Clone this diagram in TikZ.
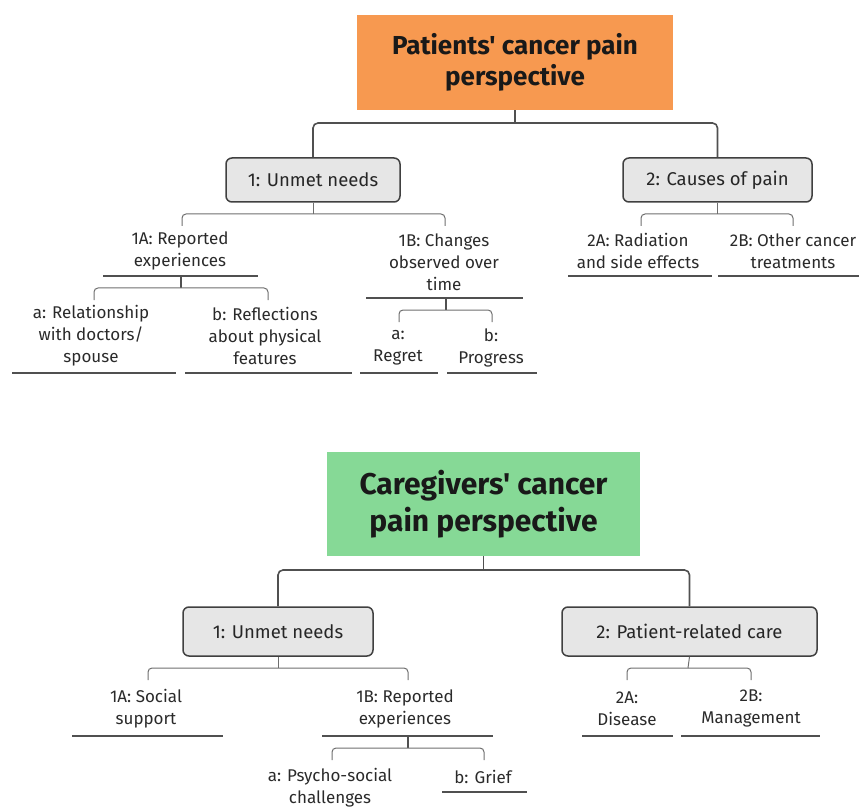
\documentclass[tikz,border=0pt]{standalone}
\usepackage{fontspec}
\setmainfont{Fira Sans}[Ligatures=TeXOff]
\definecolor{orangeT}{RGB}{247,153,80}
\definecolor{greenT}{RGB}{134,217,150}
\definecolor{boxfill}{RGB}{230,230,230}
\definecolor{boxline}{RGB}{64,64,64}
\definecolor{lineC}{RGB}{80,80,80}
\definecolor{subC}{RGB}{110,110,110}
\definecolor{txt}{RGB}{42,42,42}
\begin{document}
\begin{tikzpicture}[x=1pt,y=-1pt,
  rootbox/.style={inner sep=0, align=center, text=black!90, font=\bfseries\fontsize{26}{31}\selectfont},
  cat/.style={draw=boxline, fill=boxfill, rounded corners=6, line width=1.5, text=black!85, inner sep=0, minimum height=44, font=\fontsize{18.5}{22}\selectfont},
  leaf/.style={align=center, inner sep=0, text=txt, font=\fontsize{17}{22}\selectfont},
  conn/.style={draw=lineC, line width=1.6, rounded corners=5},
  sub/.style={draw=subC, line width=1, rounded corners=4},
  uline/.style={draw=lineC, line width=1.2}]
\useasboundingbox (0,0) rectangle (859,810);

% ---------------- Patients ----------------
\node[rootbox, fill=orangeT, minimum width=316, minimum height=95] (P) at (515,62.5) {Patients' cancer pain\\perspective};
\node[cat, minimum width=174] (U1) at (313,180) {1: Unmet needs};
\node[cat, minimum width=189] (C2) at (717.5,180) {2: Causes of pain};
\coordinate (jP) at (515,123);
\draw[conn] (P.south) -- (jP);
\draw[conn] (U1.north) |- (jP) -| (C2.north);

% under 1
\node[leaf] (A1) at (180,251) {1A: Reported\\experiences};
\node[leaf] (B1) at (444,262) {1B: Changes\\observed over\\time};
\coordinate (j1) at (313,214);
\coordinate (tA1) at (182,226);
\coordinate (tB1) at (445,226);
\draw[sub] (U1.south) -- (j1);
\draw[sub] (tA1) |- (j1) -| (tB1);
\coordinate (A1l) at (103,276); \coordinate (A1r) at (258,276);
\draw[uline] (A1l) -- (A1r);
\coordinate (B1l) at (366,298); \coordinate (B1r) at (523,298);
\draw[uline] (B1l) -- (B1r);

% under 1A
\node[leaf] (A1a) at (91,336) {a: Relationship\\with doctors/\\spouse};
\node[leaf] (A1b) at (265,336) {b: Reflections\\about physical\\features};
\coordinate (sA1) at (181,276);
\coordinate (jA1) at (181,288);
\coordinate (tA1a) at (94,300);
\coordinate (tA1b) at (268,300);
\draw[uline] (sA1) -- (jA1);
\draw[sub] (tA1a) |- (jA1) -| (tA1b);
\coordinate (A1al) at (12,373); \coordinate (A1ar) at (176,373);
\draw[uline] (A1al) -- (A1ar);
\coordinate (A1bl) at (185,373); \coordinate (A1br) at (352,373);
\draw[uline] (A1bl) -- (A1br);

% under 1B
\node[leaf] (B1a) at (398,347.5) {a:\\Regret};
\node[leaf] (B1b) at (491,347.5) {b:\\Progress};
\coordinate (sB1) at (446,298);
\coordinate (jB1) at (446,310);
\coordinate (tB1a) at (399,322);
\coordinate (tB1b) at (492,322);
\draw[uline] (sB1) -- (jB1);
\draw[sub] (tB1a) |- (jB1) -| (tB1b);
\coordinate (B1al) at (360,373); \coordinate (B1ar) at (438,373);
\draw[uline] (B1al) -- (B1ar);
\coordinate (B1bl) at (447,373); \coordinate (B1br) at (537,373);
\draw[uline] (B1bl) -- (B1br);

% under 2
\node[leaf] (A2) at (638,251) {2A: Radiation\\and side effects};
\node[leaf] (B2) at (793,251) {2B: Other cancer\\treatments};
\coordinate (j2) at (717.5,214);
\coordinate (tA2) at (641,226);
\coordinate (tB2) at (793,226);
\draw[sub] (C2.south) -- (j2);
\draw[sub] (tA2) |- (j2) -| (tB2);
\coordinate (A2l) at (568,276); \coordinate (A2r) at (712,276);
\draw[uline] (A2l) -- (A2r);
\coordinate (B2l) at (718,276); \coordinate (B2r) at (859,276);
\draw[uline] (B2l) -- (B2r);

% ---------------- Caregivers ----------------
\node[rootbox, fill=greenT, minimum width=313, minimum height=104, font=\bfseries\fontsize{30}{37}\selectfont] (G) at (483.5,504) {Caregivers' cancer\\pain perspective};
\node[cat, minimum width=190, minimum height=49] (U2) at (278,631.5) {1: Unmet needs};
\node[cat, minimum width=255, minimum height=49] (R2) at (689.5,631.5) {2: Patient-related care};
\coordinate (jG) at (483.5,570);
\draw[conn] (G.south) -- (jG);
\draw[conn] (U2.north) |- (jG) -| (R2.north);

% under 1
\node[leaf] (SA) at (146,708.5) {1A: Social\\support};
\node[leaf] (SB) at (405,708.5) {1B: Reported\\experiences};
\coordinate (jU2) at (278,668);
\coordinate (tSA) at (148,680);
\coordinate (tSB) at (408,680);
\draw[sub] (U2.south) -- (jU2);
\draw[sub] (tSA) |- (jU2) -| (tSB);
\coordinate (SAl) at (72,736); \coordinate (SAr) at (223,736);
\draw[uline] (SAl) -- (SAr);
\coordinate (SBl) at (322,736); \coordinate (SBr) at (493,736);
\draw[uline] (SBl) -- (SBr);

% under 1B
\node[leaf] (SBa) at (330,787.5) {a: Psycho-social\\challenges};
\node[leaf] (SBb) at (483,777) {b: Grief};
\coordinate (sSB) at (408,736);
\coordinate (jSB) at (408,748);
\coordinate (tSBa) at (332,760);
\coordinate (tSBb) at (484,760);
\draw[uline] (sSB) -- (jSB);
\draw[sub] (tSBa) |- (jSB) -| (tSBb);
\coordinate (SBbl) at (442,792); \coordinate (SBbr) at (527,792);
\draw[uline] (SBbl) -- (SBbr);

% under 2
\node[leaf] (DA) at (627,708.5) {2A:\\Disease};
\node[leaf] (DB) at (751,708.5) {2B:\\Management};
\coordinate (jR2) at (688,668);
\coordinate (tDA) at (627,680);
\coordinate (tDB) at (751,680);
\draw[sub] (R2.south) -- (jR2);
\draw[sub] (tDA) |- (jR2) -| (tDB);
\coordinate (DAl) at (582,736); \coordinate (DAr) at (673,736);
\draw[uline] (DAl) -- (DAr);
\coordinate (DBl) at (681,736); \coordinate (DBr) at (820,736);
\draw[uline] (DBl) -- (DBr);
\end{tikzpicture}
\end{document}
